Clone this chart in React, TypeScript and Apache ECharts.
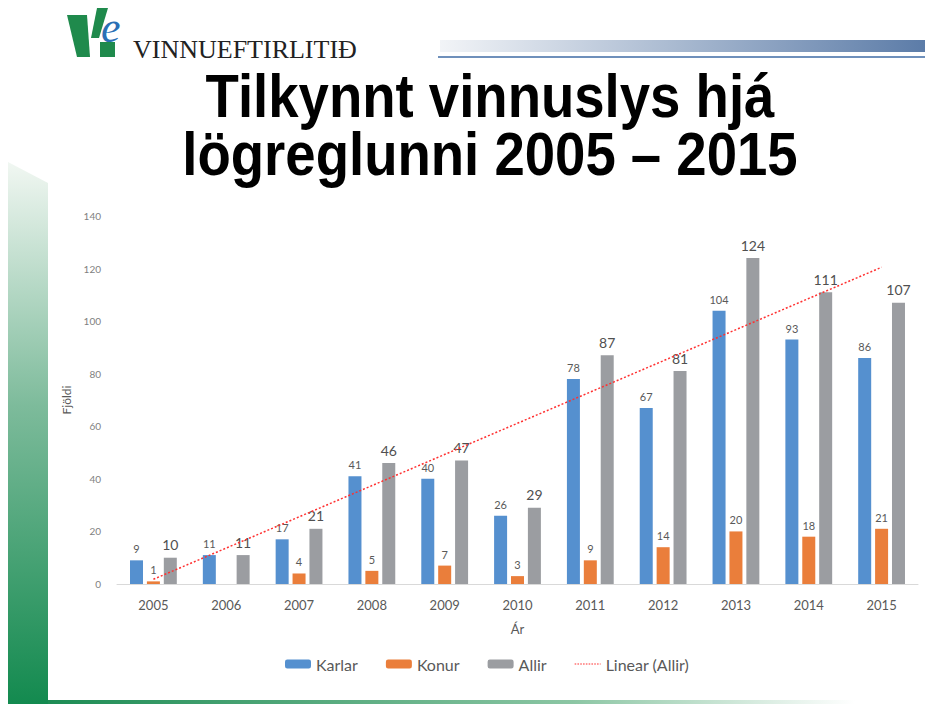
import React, { useEffect, useRef } from "react";
import * as echarts from "echarts";

const years = ["2005", "2006", "2007", "2008", "2009", "2010", "2011", "2012", "2013", "2014", "2015"];
const karlar = [9, 11, 17, 41, 40, 26, 78, 67, 104, 93, 86];
const konur: (number | null)[] = [1, null, 4, 5, 7, 3, 9, 14, 20, 18, 21];
const allir = [10, 11, 21, 46, 47, 29, 87, 81, 124, 111, 107];
// trend line endpoints (Excel "Linear (Allir)")
const trendYears = ["2005", "2015"];
const trendValues = [1.8, 120.5];
const yTicks = [0, 20, 40, 60, 80, 100, 120, 140];

const FONT = "Lato, 'Open Sans', sans-serif";
const DOTTED_ICON =
  "path://M0 3.4h1.6v1.2h-1.6z M2.8 3.4h1.6v1.2h-1.6z M5.6 3.4h1.6v1.2h-1.6z M8.4 3.4h1.6v1.2h-1.6z M11.2 3.4h1.6v1.2h-1.6z M14 3.4h1.6v1.2h-1.6z M16.8 3.4h1.6v1.2h-1.6z M19.6 3.4h1.6v1.2h-1.6z M22.4 3.4h1.6v1.2h-1.6z M25.2 3.4h0.8v1.2h-0.8z";

export default function App() {
  const ref = useRef<HTMLDivElement>(null);
  useEffect(() => {
    if (!ref.current) return;
    const chart = echarts.init(ref.current, undefined, { renderer: "svg" });
    const smallLabel = { show: true, position: "top", fontSize: 11, color: "#595959", fontFamily: FONT, distance: 6 };
    const titleFont = "bold 62px 'Liberation Sans', Arial, sans-serif";
    chart.setOption({
      animation: false,
      backgroundColor: "#ffffff",
      textStyle: { fontFamily: FONT },
      grid: { left: 117, right: 7, top: 216, bottom: 120, containLabel: false },
      legend: {
        top: 651,
        left: 280,
        itemWidth: 26,
        itemHeight: 9,
        itemGap: 28,
        textStyle: { fontSize: 16, color: "#595959", fontFamily: FONT },
        data: [
          { name: "Karlar" },
          { name: "Konur" },
          { name: "Allir" },
          { name: "Linear (Allir)", icon: DOTTED_ICON, itemStyle: { color: "#ff3030" } },
        ],
      },
      xAxis: {
        type: "category",
        data: years,
        name: "Ár",
        nameLocation: "middle",
        nameGap: 38,
        nameTextStyle: { fontSize: 13, color: "#595959", fontFamily: FONT },
        axisLine: { lineStyle: { color: "#d9d9d9", width: 1 } },
        axisTick: { show: false },
        axisLabel: { fontSize: 13, color: "#595959", margin: 14, fontFamily: FONT },
      },
      yAxis: {
        type: "value",
        min: 0,
        max: yTicks[yTicks.length - 1],
        interval: 20,
        name: "Fjöldi",
        nameLocation: "middle",
        nameGap: 37,
        nameRotate: 90,
        nameTextStyle: { fontSize: 12, color: "#595959", fontFamily: FONT },
        axisLine: { show: false },
        axisTick: { show: false },
        splitLine: { show: false },
        axisLabel: { fontSize: 10, color: "#7f7f7f", margin: 16, fontFamily: FONT },
      },
      series: [
        {
          name: "Karlar",
          type: "bar",
          data: karlar,
          barWidth: 13,
          barGap: "30%",
          itemStyle: { color: "#5590cf" },
          label: smallLabel,
        },
        {
          name: "Konur",
          type: "bar",
          data: konur,
          barWidth: 13,
          barGap: "30%",
          itemStyle: { color: "#ea7e3b" },
          label: smallLabel,
        },
        {
          name: "Allir",
          type: "bar",
          data: allir,
          barWidth: 13,
          barGap: "30%",
          itemStyle: { color: "#9b9da1" },
          label: { ...smallLabel, fontSize: 14, color: "#505050" },
        },
        {
          name: "Linear (Allir)",
          type: "line",
          data: trendYears.map((y, i) => [y, trendValues[i]]),
          symbol: "none",
          lineStyle: { color: "#ff3030", width: 1.5, type: [2, 2] },
          itemStyle: { color: "#ff3030" },
          z: 5,
        },
      ],
      graphic: [
        // left green strip
        {
          type: "polygon",
          shape: { points: [[8, 162], [48, 183], [48, 704], [8, 704]] },
          style: {
            fill: new echarts.graphic.LinearGradient(0, 0, 0, 1, [
              { offset: 0, color: "#f1f7f2" },
              { offset: 0.45, color: "#7dbb9b" },
              { offset: 1, color: "#138a4f" },
            ]),
          },
          z: -10,
        },
        // bottom green line
        {
          type: "rect",
          shape: { x: 48, y: 700, width: 877, height: 4 },
          style: {
            fill: new echarts.graphic.LinearGradient(0, 0, 1, 0, [
              { offset: 0, color: "#1d8c54" },
              { offset: 0.6, color: "#8cc6a4" },
              { offset: 0.92, color: "#ffffff" },
              { offset: 1, color: "#ffffff" },
            ]),
          },
          z: -10,
        },
        // top-right gradient band
        {
          type: "rect",
          shape: { x: 440, y: 40, width: 485, height: 12 },
          style: {
            fill: new echarts.graphic.LinearGradient(0, 0, 1, 0, [
              { offset: 0, color: "#f2f4f7" },
              { offset: 1, color: "#5c7ca8" },
            ]),
          },
          z: -10,
        },
        {
          type: "rect",
          shape: { x: 438, y: 56, width: 487, height: 2 },
          style: { fill: "#6f90bb" },
          z: -10,
        },
        // logo shapes
        {
          type: "polygon",
          shape: { points: [[67, 15], [87, 15], [90, 57], [77, 57]] },
          style: { fill: "#1f8a4c" },
        },
        {
          type: "polygon",
          shape: { points: [[97, 8], [108, 8], [99, 38], [91, 38]] },
          style: { fill: "#1f8a4c" },
        },
        {
          type: "rect",
          shape: { x: 100, y: 42, width: 15, height: 15 },
          style: { fill: "#1f8a4c" },
        },
        {
          type: "text",
          x: 101,
          y: 5,
          style: {
            text: "e",
            font: "italic 44px 'Liberation Serif', serif",
            fill: "#2a6fb5",
          },
        },
        {
          type: "text",
          x: 133,
          y: 49,
          style: {
            text: "VINNUEFTIRLITIÐ",
            font: "26px 'Liberation Serif', 'DejaVu Serif', serif",
            fill: "#222222",
            verticalAlign: "middle",
          },
        },
        // title
        {
          type: "text",
          x: 490,
          y: 95,
          scaleX: 0.88,
          style: {
            text: "Tilkynnt vinnuslys hjá",
            font: titleFont,
            fill: "#000000",
            align: "center",
            verticalAlign: "middle",
          },
        },
        {
          type: "text",
          x: 490,
          y: 153,
          scaleX: 0.88,
          style: {
            text: "lögreglunni 2005 – 2015",
            font: titleFont,
            fill: "#000000",
            align: "center",
            verticalAlign: "middle",
          },
        },
      ],
    });
    return () => chart.dispose();
  }, []);
  return (
    <div
      ref={ref}
      style={{ position: "absolute", left: 0, top: 0, width: 925, height: 704 }}
    />
  );
}
